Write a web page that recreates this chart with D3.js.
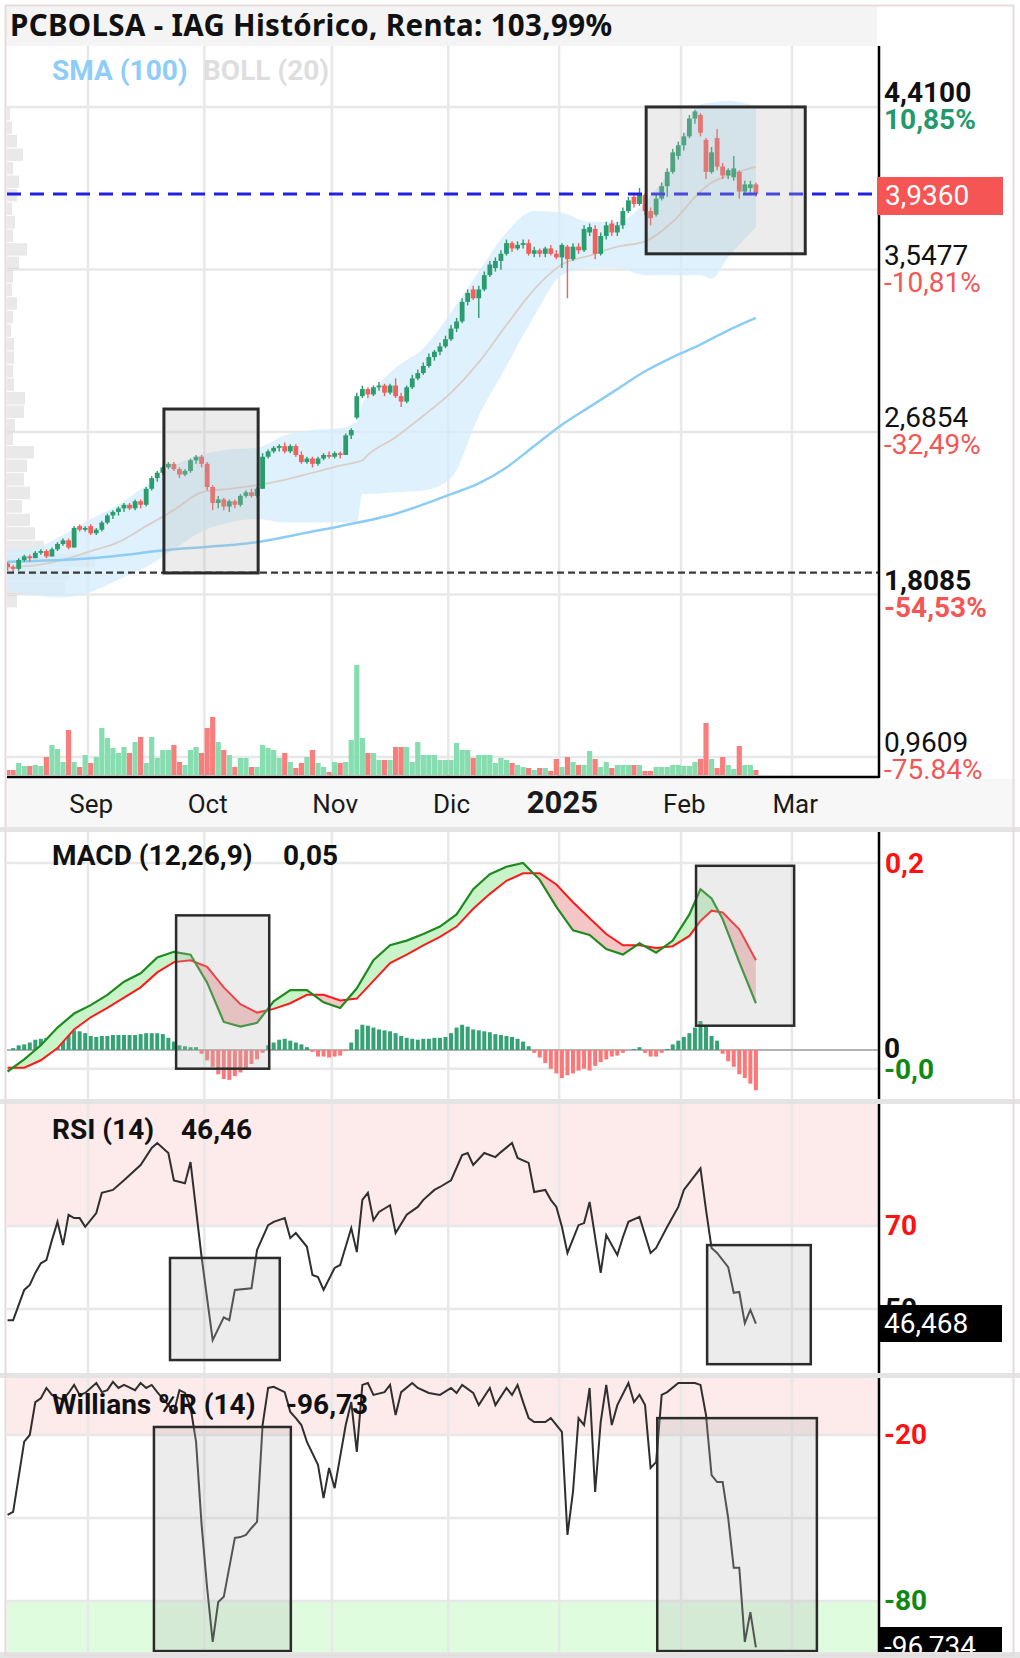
<!DOCTYPE html>
<html>
<head>
<meta charset="utf-8">
<script src="https://cdn.jsdelivr.net/npm/d3@7"></script>
<style>
  body { margin: 0; background: #fff; }
  text { font-family: Roboto, "Noto Sans", sans-serif; }
</style>
</head>
<body>
<svg id="chart" width="1020" height="1658"></svg>
<script>
// ---------- data (bar index 0 = 12 Aug 2024 ... 135 = 20 Feb 2025) ----------
var openP = [1.86,1.84,1.83,1.88,1.90,1.89,1.92,1.93,1.90,1.94,
  1.97,1.99,1.95,2.07,2.05,2.07,2.03,2.05,2.09,2.13,
  2.15,2.17,2.19,2.17,2.21,2.19,2.28,2.34,2.37,2.40,
  2.42,2.39,2.36,2.38,2.44,2.46,2.42,2.29,2.20,2.22,
  2.18,2.21,2.19,2.24,2.26,2.24,2.28,2.46,2.49,2.51,
  2.52,2.49,2.52,2.47,2.43,2.45,2.42,2.45,2.47,2.46,
  2.48,2.47,2.58,2.68,2.80,2.84,2.81,2.85,2.86,2.82,
  2.86,2.80,2.77,2.85,2.90,2.93,2.97,3.02,3.05,3.08,
  3.12,3.18,3.22,3.33,3.40,3.35,3.40,3.48,3.52,3.56,
  3.60,3.66,3.63,3.65,3.66,3.60,3.62,3.60,3.63,3.60,
  3.58,3.64,3.57,3.64,3.62,3.72,3.74,3.60,3.70,3.77,
  3.72,3.76,3.84,3.92,3.88,3.93,3.84,3.82,3.91,3.98,
  4.06,4.15,4.21,4.26,4.36,4.38,4.24,4.06,4.25,4.09,
  4.04,4.03,4.06,3.95,3.97,3.99];
var highP = [1.87,1.85,1.89,1.91,1.91,1.93,1.94,1.94,1.95,1.98,
  2.00,2.00,2.07,2.08,2.07,2.08,2.06,2.10,2.14,2.16,
  2.18,2.20,2.20,2.22,2.22,2.29,2.35,2.38,2.41,2.43,
  2.43,2.40,2.39,2.45,2.47,2.47,2.43,2.30,2.24,2.23,
  2.22,2.22,2.25,2.27,2.28,2.29,2.48,2.50,2.52,2.53,
  2.54,2.53,2.53,2.49,2.46,2.46,2.46,2.48,2.49,2.49,
  2.49,2.59,2.62,2.82,2.86,2.85,2.86,2.88,2.87,2.87,
  2.90,2.82,2.86,2.92,2.95,2.99,3.04,3.06,3.10,3.14,
  3.20,3.24,3.35,3.40,3.42,3.42,3.50,3.56,3.58,3.62,
  3.68,3.67,3.67,3.68,3.68,3.64,3.63,3.64,3.65,3.62,
  3.66,3.65,3.66,3.66,3.76,3.77,3.76,3.72,3.78,3.79,
  3.78,3.86,3.92,3.94,3.97,3.94,3.86,3.93,4.00,4.08,
  4.19,4.23,4.28,4.38,4.41,4.39,4.25,4.20,4.30,4.11,
  4.08,4.15,4.07,4.01,4.01,4.00];
var lowP = [1.82,1.81,1.82,1.87,1.87,1.89,1.91,1.89,1.90,1.93,
  1.96,1.94,1.95,2.04,2.04,2.02,2.02,2.04,2.08,2.11,
  2.13,2.15,2.16,2.16,2.17,2.18,2.27,2.32,2.36,2.39,
  2.38,2.34,2.35,2.37,2.42,2.40,2.27,2.16,2.17,2.16,
  2.15,2.17,2.18,2.23,2.23,2.23,2.28,2.45,2.48,2.49,
  2.48,2.48,2.46,2.42,2.42,2.40,2.41,2.44,2.45,2.45,
  2.45,2.47,2.56,2.67,2.79,2.79,2.80,2.83,2.80,2.81,
  2.79,2.74,2.76,2.84,2.89,2.92,2.96,3.00,3.03,3.07,
  3.11,3.16,3.21,3.31,3.34,3.24,3.39,3.47,3.50,3.51,
  3.59,3.61,3.62,3.63,3.59,3.58,3.58,3.58,3.59,3.57,
  3.52,3.35,3.56,3.60,3.61,3.70,3.57,3.59,3.68,3.70,
  3.70,3.74,3.83,3.86,3.87,3.82,3.76,3.81,3.90,3.92,
  4.05,4.13,4.18,4.25,4.33,4.26,4.02,4.05,4.07,4.02,
  4.02,4.01,3.91,3.93,3.94,3.92];
var closeP = [1.84,1.83,1.88,1.90,1.89,1.92,1.93,1.90,1.94,1.97,
  1.99,1.95,2.06,2.05,2.06,2.03,2.05,2.09,2.13,2.15,
  2.17,2.19,2.17,2.21,2.19,2.28,2.34,2.37,2.40,2.42,
  2.39,2.36,2.38,2.44,2.46,2.42,2.29,2.20,2.22,2.18,
  2.21,2.19,2.24,2.26,2.24,2.28,2.46,2.49,2.51,2.52,
  2.49,2.52,2.47,2.43,2.45,2.42,2.45,2.47,2.46,2.48,
  2.47,2.58,2.61,2.80,2.84,2.81,2.85,2.86,2.82,2.86,
  2.80,2.77,2.85,2.90,2.93,2.97,3.02,3.05,3.08,3.12,
  3.18,3.22,3.33,3.38,3.35,3.40,3.48,3.54,3.56,3.60,
  3.66,3.63,3.65,3.66,3.60,3.62,3.60,3.63,3.60,3.58,
  3.65,3.57,3.64,3.62,3.74,3.75,3.60,3.70,3.76,3.72,
  3.76,3.84,3.90,3.88,3.94,3.84,3.80,3.91,3.98,4.06,
  4.17,4.21,4.26,4.36,4.40,4.28,4.06,4.17,4.09,4.04,
  4.07,4.08,3.95,3.99,3.99,3.936];
var volume = [5,5,12,9,9,10,9,18,30,26,
  13,45,13,8,20,12,18,47,37,27,
  22,28,22,33,38,12,38,17,25,25,
  30,13,10,25,28,22,47,58,33,25,
  20,8,17,17,8,8,30,27,25,17,
  22,13,7,12,18,25,12,8,3,13,
  12,13,35,110,37,22,22,15,15,15,
  28,28,28,13,33,20,20,20,15,15,
  15,32,25,25,17,20,20,20,12,17,
  15,12,10,8,7,5,7,7,4,16,
  8,18,13,10,10,24,16,8,13,7,
  10,10,10,10,10,4,4,8,8,8,
  10,10,9,9,13,16,52,16,7,18,
  10,6,29,10,10,5];

var smaIdx = [0,15,30,45,55,60,70,80,85,90,95,100,105,110,115,120,125,130,135];
var sma100 = [1.87,1.89,1.94,1.98,2.04,2.07,2.14,2.25,2.31,2.40,2.52,2.64,2.74,2.84,2.94,3.02,3.09,3.17,3.24];

var bollIdx = [0,5,10,15,20,25,30,35,40,45,50,55,60,63,64,65,70,75,80,85,90,95,100,105,110,115,120,125,127,130,135];
var bollUp  = [1.94,1.95,2.02,2.11,2.19,2.30,2.41,2.47,2.50,2.51,2.58,2.61,2.62,2.66,2.76,2.80,2.96,3.07,3.27,3.50,3.72,3.84,3.83,3.78,3.78,3.89,4.10,4.44,4.45,4.46,4.43];
var bollMid = [1.84,1.85,1.88,1.93,1.98,2.07,2.16,2.26,2.28,2.30,2.33,2.37,2.41,2.43,2.44,2.47,2.57,2.69,2.82,2.99,3.20,3.40,3.54,3.59,3.64,3.67,3.78,3.95,4.00,4.04,4.09];
var bollLow = [1.71,1.68,1.67,1.70,1.77,1.84,1.94,2.04,2.09,2.11,2.09,2.09,2.09,2.09,2.25,2.25,2.26,2.27,2.34,2.69,2.97,3.25,3.48,3.52,3.52,3.48,3.48,3.48,3.46,3.58,3.75];

// volume profile, bins of 0.076 from 4.42 downwards
var profileTop = 4.42, profileStep = 0.076;
var profileVol = [3,5,10,16,6,12,10,5,8,6,20,12,6,5,10,6,4,7,7,6,7,18,17,8,6,27,20,17,23,15,23,28,37,88,62,58,10];

var macdIdx = [0,3,6,9,12,15,18,21,24,27,30,33,36,39,42,45,48,51,54,57,60,63,66,69,72,75,78,81,84,87,90,93,96,99,102,105,108,111,114,117,120,123,125,127,129,132,135];
var macdVal = [-0.023,-0.010,0.005,0.024,0.039,0.048,0.059,0.073,0.082,0.099,0.105,0.102,0.072,0.030,0.025,0.029,0.052,0.064,0.064,0.051,0.045,0.066,0.096,0.112,0.117,0.124,0.132,0.145,0.172,0.188,0.196,0.200,0.182,0.153,0.128,0.123,0.108,0.102,0.114,0.104,0.117,0.145,0.172,0.162,0.140,0.094,0.050];
var signalVal = [-0.019,-0.019,-0.011,0.002,0.022,0.035,0.045,0.056,0.067,0.083,0.094,0.096,0.089,0.067,0.049,0.040,0.044,0.050,0.059,0.059,0.053,0.055,0.074,0.093,0.102,0.112,0.121,0.132,0.151,0.167,0.181,0.189,0.189,0.177,0.158,0.141,0.124,0.112,0.112,0.109,0.111,0.122,0.138,0.149,0.147,0.129,0.096];
var macdHist = [0,0.002,0.005,0.006,0.008,0.011,0.012,0.013,0.013,0.016,
  0.020,0.021,0.021,0.020,0.018,0.015,0.014,0.015,0.015,0.016,
  0.016,0.016,0.016,0.016,0.017,0.018,0.018,0.018,0.017,0.013,
  0.009,0.005,0.004,0.003,0.003,-0.004,-0.011,-0.018,-0.026,-0.031,
  -0.032,-0.028,-0.024,-0.020,-0.015,-0.010,-0.003,0.005,0.008,0.011,
  0.012,0.010,0.008,0.006,0.003,-0.002,-0.007,-0.007,-0.008,-0.007,
  -0.006,-0.001,0.008,0.022,0.027,0.026,0.024,0.022,0.021,0.020,
  0.018,0.015,0.013,0.012,0.011,0.012,0.012,0.013,0.013,0.014,
  0.018,0.024,0.027,0.025,0.022,0.021,0.020,0.019,0.017,0.016,
  0.015,0.014,0.012,0.009,0.004,-0.003,-0.008,-0.014,-0.020,-0.025,
  -0.030,-0.027,-0.025,-0.022,-0.020,-0.022,-0.017,-0.013,-0.010,-0.007,
  -0.006,-0.003,0,0.001,0.003,-0.003,-0.007,-0.007,-0.003,0.001,
  0.006,0.010,0.014,0.018,0.024,0.031,0.026,0.015,0.010,-0.004,
  -0.012,-0.018,-0.026,-0.030,-0.036,-0.043];

var rsi14 = [[0,47.3],[1,47.3],[3,54.6],[4,55.8],[5,58.7],[6,61],[7,61.8],[8,66.6],[9,71],[10,65.4],[11,72.7],[12,71.9],[13,71.9],[14,69.8],[16,73.1],[17,78],[19,78.7],[21,81],[24,84.7],[26,88.8],[27,90],[29,87.6],[30,81],[32,80.3],[33,85.4],[35,62.5],[37,42.5],[39,48],[40,47.3],[41,54.6],[44,55],[45,64.2],[47,70.2],[48,71],[50,71.9],[51,67.1],[52,68.3],[54,65],[55,58.2],[56,57.7],[57,54.6],[59,59.9],[60,60.6],[62,69.5],[63,63.7],[64,76.3],[65,78],[66,71.4],[67,73.4],[69,75],[70,68.3],[72,72.7],[74,74.6],[75,76.3],[77,78.7],[78,79.4],[80,81],[82,87.1],[83,87.6],[84,84.7],[86,87.6],[88,86.6],[89,87.8],[91,90],[92,86.4],[94,85.2],[95,78.2],[97,78.7],[98,76.3],[99,74.6],[100,69.8],[101,63.5],[103,70.2],[104,70.7],[105,75.8],[107,58.7],[108,67.8],[110,63],[111,67.3],[112,71],[114,72.2],[116,63.5],[117,64.7],[119,69.8],[121,74.6],[122,78.7],[125,83.9],[126,73.9],[127,64.7],[128,63.5],[130,60.1],[131,53.9],[132,54.1],[133,46.6],[134,49.8],[135,46.47]];

var willR = [[0,-48.9],[1,-47.8],[3,-22.4],[4,-20],[5,-8.1],[6,-6.7],[7,-3],[8,-5.5],[10,-7.3],[11,-4.8],[12,-1.9],[13,-5.5],[14,-4.8],[16,-1.2],[17,-4.5],[18,-3.8],[19,-0.8],[20,-3],[21,-1.9],[23,-3.8],[24,-1.2],[25,-3],[26,-1.9],[27,-4.5],[29,-9.2],[30,-11.7],[31,-3.8],[32,-4.8],[33,-9.9],[34,-22.5],[35,-52.5],[36,-75.3],[37,-94.8],[38,-80.4],[39,-78.5],[41,-57.2],[42,-56.9],[43,-56.1],[44,-53.6],[45,-51.4],[46,-16.4],[47,-3],[48,-2.6],[50,-4.5],[51,-11.7],[52,-13.9],[53,-16.4],[54,-22.5],[56,-30.8],[57,-42.8],[58,-31.9],[59,-39.2],[61,-16.4],[62,-8.1],[63,-26.1],[64,-1.9],[65,-1.2],[66,-5.5],[68,-4.5],[69,-1.9],[70,-12.8],[71,-4.5],[73,-1.2],[74,-3],[76,-4.8],[78,-5.5],[80,-3],[81,-4.8],[82,-1.9],[84,-4.8],[85,-9.2],[87,-3],[88,-9.2],[90,-3],[91,-5.5],[92,-1.9],[93,-8.1],[94,-13.9],[95,-15.3],[97,-15.3],[98,-13.9],[100,-18.9],[101,-56.1],[102,-40.6],[103,-13.9],[104,-16.4],[105,-3],[106,-40.6],[107,-15.3],[108,-1.9],[109,-16.4],[110,-9.2],[112,-1.2],[113,-8.1],[114,-5.5],[115,-9.2],[116,-31.9],[117,-29.8],[118,-5.5],[119,-4.5],[121,-1.2],[122,-1.2],[124,-1.2],[125,-1.9],[126,-12.8],[127,-34.5],[128,-37],[129,-37],[130,-50],[131,-68],[132,-68],[133,-94.8],[134,-84],[135,-96.73]];

// axis texts
var monthLabels = ["Sep","Oct","Nov","Dic","2025","Feb","Mar"];
var monthStart = [15,36,59,80,100,122,142];
var priceTicks = ["4,4100","3,5477","2,6854","1,8085","0,9609"];
var pctTicks = ["10,85%","-10,81%","-32,49%","-54,53%","-75.84%"];
var lastPrice = 3.936, lowLevel = 1.8085;

// annotation boxes: [idxFrom, idxTo, valueTop, valueBottom]
var mainBoxes = [[28.2,45.2,2.728,1.807],[115.2,143.9,4.425,3.60]];
var macdBoxes = [[30.4,47.2,0.144,-0.020],[124.2,141.9,0.197,0.026]];
var rsiBoxes = [[29.3,49.1,62.3,37.7],[126.2,144.9,65.4,36.7]];
var wrBoxes = [[26.4,51.1,-17.1,-98.1],[117.2,146,-13.9,-98.1]];

// ---------- layout ----------
var svg = d3.select("#chart");
var defs = svg.append("defs");
var plotL = 7, plotR = 879;
var mainTop = 46, mainBot = 777;
var macdTop = 832, macdBot = 1099;
var rsiTop = 1104, rsiBot = 1373;
var wrTop = 1378, wrBot = 1652;

var upC = "#2b9c6e", downC = "#f2605c";
var gridC = "#e8e8e8";

var x = d3.scaleLinear().domain([0, 157]).range([7.6, 877.85]);
var y = d3.scaleLinear().domain([lowLevel, lastPrice]).range([572.7, 194]);
var gridY = d3.scaleLinear().domain([0, 4]).range([107, 757]);
var vy = d3.scaleLinear().domain([0, 120]).range([775, 655]);
var my = d3.scaleLinear().domain([-0.02, 0.2]).range([1068.7, 863]);
var ry = d3.scaleLinear().domain([50, 70]).range([1309, 1226]);
var wy = d3.scaleLinear().domain([-80, -20]).range([1601, 1435]);
var pw = d3.scaleLinear().domain([0, 100]).range([0, 100]);

function clip(id, top, bot) {
  defs.append("clipPath").attr("id", id).append("rect")
    .attr("x", plotL).attr("y", top).attr("width", plotR - plotL).attr("height", bot - top);
}
clip("cMain", mainTop, mainBot);
clip("cMacd", macdTop, macdBot);
clip("cRsi", rsiTop, rsiBot);
clip("cWr", wrTop, wrBot);

function vgrid(g, top, bot) {
  g.selectAll(null).data(monthStart).enter().append("line")
    .attr("x1", function (d) { return x(d - 0.5); })
    .attr("x2", function (d) { return x(d - 0.5); })
    .attr("y1", top).attr("y2", bot)
    .attr("stroke", gridC).attr("stroke-width", 2.5);
}
function hline(g, yy, color, w, dash) {
  var l = g.append("line").attr("x1", plotL).attr("x2", plotR).attr("y1", yy).attr("y2", yy)
    .attr("stroke", color).attr("stroke-width", w);
  if (dash) l.attr("stroke-dasharray", dash);
  return l;
}
function boxes(g, data, ys, sw) {
  g.selectAll(null).data(data).enter().append("rect")
    .attr("x", function (d) { return x(d[0]); })
    .attr("y", function (d) { return ys(d[2]); })
    .attr("width", function (d) { return x(d[1]) - x(d[0]); })
    .attr("height", function (d) { return ys(d[3]) - ys(d[2]); })
    .attr("fill", "rgba(185,185,185,0.27)")
    .attr("stroke", "#2b2b2b").attr("stroke-width", sw);
}
function label(txt, xx, yy, opt) {
  opt = opt || {};
  return svg.append("text").attr("x", xx).attr("y", yy).text(txt)
    .attr("font-size", opt.size || 28)
    .attr("font-weight", opt.bold ? 700 : 400)
    .attr("fill", opt.color || "#111")
    .attr("text-anchor", opt.anchor || "start");
}

// background, separators, frame
svg.append("rect").attr("width", 1020).attr("height", 1658).attr("fill", "#fff");
[[827, 5], [1099, 5], [1373, 5], [1652, 6]].forEach(function (s) {
  svg.append("rect").attr("x", 0).attr("y", s[0]).attr("width", 1020).attr("height", s[1]).attr("fill", "#e4e4e4");
});
svg.append("rect").attr("x", 6).attr("y", 6).attr("width", 871).attr("height", 40).attr("fill", "#f4f4f4");
svg.append("rect").attr("x", 6).attr("y", 779).attr("width", 1007).attr("height", 48).attr("fill", "#f7f7f7");

// ---------- main panel ----------
var gMain = svg.append("g").attr("clip-path", "url(#cMain)");
vgrid(gMain, mainTop, mainBot);
d3.range(priceTicks.length).forEach(function (k) { hline(gMain, gridY(k), gridC, 2.5); });

// volume profile
gMain.selectAll(null).data(profileVol).enter().append("rect")
  .attr("x", plotL)
  .attr("y", function (d, k) { return y(profileTop - k * profileStep); })
  .attr("width", function (d) { return pw(d); })
  .attr("height", function (d, k) { return y(profileTop - (k + 1) * profileStep) - y(profileTop - k * profileStep) - 1; })
  .attr("fill", "rgba(175,175,175,0.28)");

// bollinger band
var boll = bollIdx.map(function (d, k) { return { i: d, u: bollUp[k], m: bollMid[k], l: bollLow[k] }; });
gMain.append("path").datum(boll)
  .attr("d", d3.area().curve(d3.curveMonotoneX).x(function (d) { return x(d.i); })
    .y0(function (d) { return y(d.l); }).y1(function (d) { return y(d.u); }))
  .attr("fill", "#d4ecfb").attr("fill-opacity", 0.75);
gMain.append("path").datum(boll)
  .attr("d", d3.line().curve(d3.curveMonotoneX).x(function (d) { return x(d.i); }).y(function (d) { return y(d.m); }))
  .attr("fill", "none").attr("stroke", "#d9cfc9").attr("stroke-width", 1.8);

// sma 100
gMain.append("path").datum(smaIdx.map(function (d, k) { return [d, sma100[k]]; }))
  .attr("d", d3.line().curve(d3.curveMonotoneX).x(function (d) { return x(d[0]); }).y(function (d) { return y(d[1]); }))
  .attr("fill", "none").attr("stroke", "#8ccdf6").attr("stroke-width", 2.5);

// volume
var bars = d3.range(closeP.length);
function isUp(i) { return closeP[i] >= openP[i]; }
gMain.selectAll(null).data(bars).enter().append("rect")
  .attr("x", function (i) { return x(i) - 2.6; })
  .attr("width", 5.2)
  .attr("y", function (i) { return vy(volume[i]); })
  .attr("height", function (i) { return vy(0) - vy(volume[i]); })
  .attr("fill", function (i) { return isUp(i) ? "#86ddaf" : "#f87d7d"; });

// candles
var cg = gMain.selectAll(null).data(bars).enter().append("g");
cg.append("line")
  .attr("x1", function (i) { return x(i); }).attr("x2", function (i) { return x(i); })
  .attr("y1", function (i) { return y(highP[i]); }).attr("y2", function (i) { return y(lowP[i]); })
  .attr("stroke", function (i) { return isUp(i) ? upC : downC; }).attr("stroke-width", 1.4);
cg.append("rect")
  .attr("x", function (i) { return x(i) - 2.4; }).attr("width", 4.8)
  .attr("y", function (i) { return y(Math.max(openP[i], closeP[i])); })
  .attr("height", function (i) { return Math.max(1.6, Math.abs(y(openP[i]) - y(closeP[i]))); })
  .attr("fill", function (i) { return isUp(i) ? upC : downC; });

// level lines
hline(gMain, y(lastPrice), "#2121e6", 3, "14,9");
hline(gMain, y(lowLevel), "#3a3a3a", 2.2, "7,4");
boxes(gMain, mainBoxes, y, 3);

// axes lines
svg.append("line").attr("x1", plotR).attr("x2", plotR).attr("y1", mainTop).attr("y2", mainBot + 1).attr("stroke", "#000").attr("stroke-width", 2.5);
svg.append("line").attr("x1", plotL).attr("x2", plotR).attr("y1", mainBot).attr("y2", mainBot).attr("stroke", "#000").attr("stroke-width", 2.5);

// right price labels
priceTicks.forEach(function (t, k) {
  var b = (k === 0 || k === 3);
  label(t, 884, gridY(k) - 5, { bold: b, color: "#111" });
  label(pctTicks[k], 884, gridY(k) + 22, { bold: b, color: k === 0 ? "#229a6d" : "#f45656" });
});
svg.append("rect").attr("x", 877).attr("y", y(lastPrice) - 17).attr("width", 126).attr("height", 38).attr("fill", "#f65555");
label("3,9360", 885, y(lastPrice) + 11, { color: "#fff" });

// titles
label("PCBOLSA - IAG Histórico, Renta: 103,99%", 10, 36, { bold: true, size: 29.5 })
  .style("font-family", "'Noto Sans', 'Open Sans', sans-serif").attr("textLength", 602);
label("SMA (100)", 52, 80, { bold: true, color: "#8ecdf7" });
label("BOLL (20)", 203, 80, { bold: true, color: "#dedede" });

// x axis
var xAxis = d3.axisBottom(x).tickValues(monthStart).tickSize(0)
  .tickFormat(function (d, i) { return monthLabels[i]; });
var ax = svg.append("g").attr("transform", "translate(0,813)").call(xAxis);
ax.select(".domain").remove();
ax.selectAll("text").attr("y", 0).attr("dy", 0)
  .style("font-family", "Roboto, sans-serif")
  .style("font-size", function (d, i) { return monthLabels[i] === "2025" ? "31px" : "26px"; })
  .style("font-weight", function (d, i) { return monthLabels[i] === "2025" ? 700 : 400; })
  .style("fill", "#1a1a1a");

// ---------- MACD panel ----------
var gM = svg.append("g").attr("clip-path", "url(#cMacd)");
vgrid(gM, macdTop, macdBot);
hline(gM, my(0.2), gridC, 2.5);
hline(gM, my(-0.02), gridC, 2.5);
hline(gM, my(0), "#b4b4b4", 2);

gM.selectAll(null).data(bars).enter().append("rect")
  .attr("x", function (i) { return x(i) - 2; }).attr("width", 4)
  .attr("y", function (i) { return Math.min(my(0), my(macdHist[i])); })
  .attr("height", function (i) { return Math.abs(my(macdHist[i]) - my(0)); })
  .attr("fill", function (i) { return macdHist[i] >= 0 ? "#34a274" : "#fa7878"; });

var mp = macdIdx.map(function (d, k) { return { i: d, m: macdVal[k], s: signalVal[k] }; });
defs.append("clipPath").attr("id", "cAbove").append("path")
  .attr("d", d3.area().x(function (d) { return x(d.i); }).y0(macdTop).y1(function (d) { return my(d.s); })(mp));
defs.append("clipPath").attr("id", "cBelow").append("path")
  .attr("d", d3.area().x(function (d) { return x(d.i); }).y0(function (d) { return my(d.s); }).y1(macdBot)(mp));
var between = d3.area().x(function (d) { return x(d.i); })
  .y0(function (d) { return my(d.m); }).y1(function (d) { return my(d.s); });
gM.append("g").attr("clip-path", "url(#cAbove)").append("path").attr("d", between(mp)).attr("fill", "#c9f3c9");
gM.append("g").attr("clip-path", "url(#cBelow)").append("path").attr("d", between(mp)).attr("fill", "#f5c6c6");
gM.append("path").attr("d", d3.line().x(function (d) { return x(d.i); }).y(function (d) { return my(d.s); })(mp))
  .attr("fill", "none").attr("stroke", "#ff1a1a").attr("stroke-width", 2);
gM.append("path").attr("d", d3.line().x(function (d) { return x(d.i); }).y(function (d) { return my(d.m); })(mp))
  .attr("fill", "none").attr("stroke", "#1f8a1f").attr("stroke-width", 2.2);
boxes(gM, macdBoxes, my, 2.5);
svg.append("line").attr("x1", plotR).attr("x2", plotR).attr("y1", macdTop).attr("y2", macdBot).attr("stroke", "#000").attr("stroke-width", 2.5);
label("MACD (12,26,9)", 52, 865, { bold: true });
label("0,05", 283, 865, { bold: true });
label("0,2", 885, my(0.2) + 10, { bold: true, color: "#ff1111" });
label("0", 884, my(0) + 8, { bold: true, color: "#111" });
label("-0,0", 884, my(-0.02) + 10, { bold: true, color: "#118811" });

// ---------- RSI panel ----------
var gR = svg.append("g").attr("clip-path", "url(#cRsi)");
gR.append("rect").attr("x", plotL).attr("y", rsiTop).attr("width", plotR - plotL).attr("height", ry(70) - rsiTop).attr("fill", "#fdeaea");
vgrid(gR, rsiTop, rsiBot);
hline(gR, ry(70), gridC, 2.5);
hline(gR, ry(50), gridC, 2.5);
gR.append("path").datum(rsi14)
  .attr("d", d3.line().x(function (d) { return x(d[0]); }).y(function (d) { return ry(d[1]); }))
  .attr("fill", "none").attr("stroke", "#2f2f2f").attr("stroke-width", 2);
boxes(gR, rsiBoxes, ry, 2.5);
svg.append("line").attr("x1", plotR).attr("x2", plotR).attr("y1", rsiTop).attr("y2", rsiBot).attr("stroke", "#000").attr("stroke-width", 2.5);
label("RSI (14)", 52, 1139, { bold: true });
label("46,46", 181, 1139, { bold: true });
label("70", 885, ry(70) + 9, { bold: true, color: "#ff1111" });
label("50", 885, ry(50) + 9, { bold: true, color: "#111" });
svg.append("rect").attr("x", 878).attr("y", 1305).attr("width", 124).attr("height", 37).attr("fill", "#000");
label("46,468", 884, 1333, { color: "#fff" });

// ---------- Williams %R panel ----------
var gW = svg.append("g").attr("clip-path", "url(#cWr)");
gW.append("rect").attr("x", plotL).attr("y", wrTop).attr("width", plotR - plotL).attr("height", wy(-20) - wrTop).attr("fill", "#fdeaea");
gW.append("rect").attr("x", plotL).attr("y", wy(-80)).attr("width", plotR - plotL).attr("height", wrBot - wy(-80)).attr("fill", "#dffcdf");
vgrid(gW, wrTop, wrBot);
hline(gW, wy(-20), gridC, 2.5);
hline(gW, wy(-50), gridC, 2.5);
hline(gW, wy(-80), gridC, 2.5);
gW.append("path").datum(willR)
  .attr("d", d3.line().x(function (d) { return x(d[0]); }).y(function (d) { return wy(d[1]); }))
  .attr("fill", "none").attr("stroke", "#2f2f2f").attr("stroke-width", 2);
boxes(gW, wrBoxes, wy, 2.5);
svg.append("line").attr("x1", plotR).attr("x2", plotR).attr("y1", wrTop).attr("y2", wrBot).attr("stroke", "#000").attr("stroke-width", 2.5);
label("Willians %R (14)", 52, 1414, { bold: true });
label("-96,73", 286, 1414, { bold: true });
label("-20", 884, wy(-20) + 9, { bold: true, color: "#ff1111" });
label("-80", 884, wy(-80) + 9, { bold: true, color: "#118811" });
defs.append("clipPath").attr("id", "cWrBox").append("rect").attr("x", 870).attr("y", 1600).attr("width", 150).attr("height", 52);
var wb = svg.append("g").attr("clip-path", "url(#cWrBox)");
wb.append("rect").attr("x", 878).attr("y", 1627).attr("width", 124).attr("height", 40).attr("fill", "#000");
wb.append("text").attr("x", 884).attr("y", 1656).text("-96,734").attr("font-size", 28).attr("fill", "#fff");

// outer frame
svg.append("rect").attr("x", 5.5).attr("y", 5.5).attr("width", 1008).attr("height", 1650)
  .attr("fill", "none").attr("stroke", "#e6dada").attr("stroke-width", 2);
</script>
</body>
</html>
